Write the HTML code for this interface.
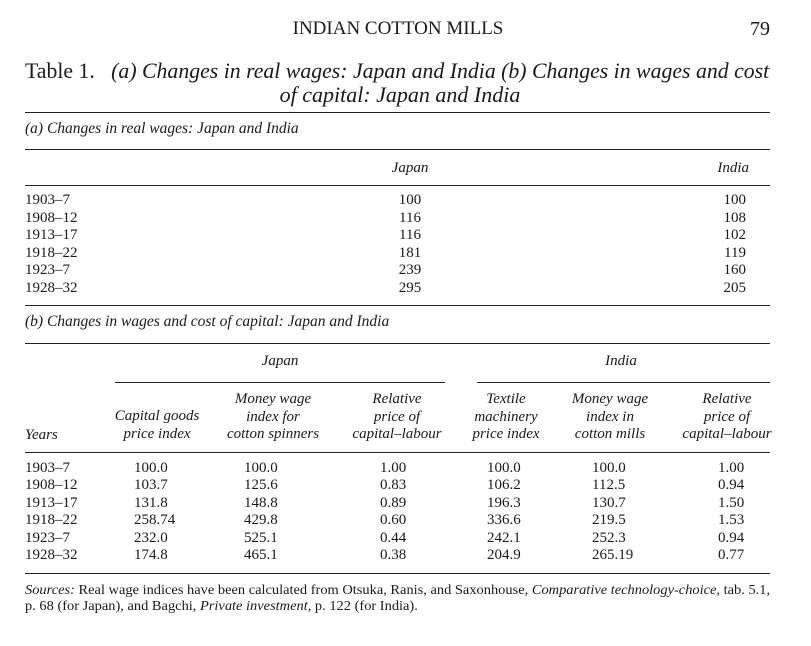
<!DOCTYPE html>
<html><head><meta charset="utf-8"><style>
body{margin:0;width:811px;height:646px;background:#fff;position:relative;overflow:hidden;font-family:"Liberation Serif",serif;color:#1a1a1a}
div{position:absolute;white-space:nowrap;line-height:18px;font-size:15px}
.c{transform:translateX(-50%)}
.r{transform:translateX(-100%)}
.i{font-style:italic}
.h{height:1px;background:#222;line-height:0}
.hd{font-size:15px;line-height:17.5px;text-align:center}
</style></head><body>
<div class="c" style="left:398px;top:18px;font-size:19px;line-height:22px">INDIAN COTTON MILLS</div>
<div class="r" style="left:770px;top:17px;font-size:20px;line-height:24px">79</div>
<div style="left:25px;top:58px;font-size:22px;line-height:26px;transform-origin:0 0;transform:scaleX(0.99)">Table 1.&nbsp;&nbsp;&nbsp;<span class="i">(a) Changes in real wages: Japan and India (b) Changes in wages and cost</span></div>
<div class="i c" style="left:400px;top:82px;font-size:22px;line-height:26px">of capital: Japan and India</div>
<div class="h" style="left:25px;width:745px;top:112px"></div>
<div class="i" style="left:25px;top:120px;font-size:15.5px">(a) Changes in real wages: Japan and India</div>
<div class="h" style="left:25px;width:745px;top:149px"></div>
<div class="i c" style="left:410px;top:159px">Japan</div>
<div class="i r" style="left:749px;top:159px">India</div>
<div class="h" style="left:25px;width:745px;top:185px"></div>
<div style="left:25px;top:192px;line-height:17.6px">1903–7<br>1908–12<br>1913–17<br>1918–22<br>1923–7<br>1928–32</div>
<div class="c" style="left:410px;top:192px;line-height:17.6px;text-align:center">100<br>116<br>116<br>181<br>239<br>295</div>
<div class="r" style="left:746px;top:192px;line-height:17.6px;text-align:right">100<br>108<br>102<br>119<br>160<br>205</div>
<div class="h" style="left:25px;width:745px;top:305px"></div>
<div class="i" style="left:25px;top:313px;font-size:15.5px">(b) Changes in wages and cost of capital: Japan and India</div>
<div class="h" style="left:25px;width:745px;top:343px"></div>
<div class="i c" style="left:280px;top:352px">Japan</div>
<div class="i c" style="left:621px;top:352px">India</div>
<div class="h" style="left:115px;width:330px;top:382px"></div>
<div class="h" style="left:477px;width:293px;top:382px"></div>
<div class="i" style="left:25px;top:426px;font-size:15px">Years</div>
<div class="i c hd" style="left:157px;top:408px">Capital goods<br>price index</div>
<div class="i c hd" style="left:273px;top:391px">Money wage<br>index for<br>cotton spinners</div>
<div class="i c hd" style="left:397px;top:391px">Relative<br>price of<br>capital–labour</div>
<div class="i c hd" style="left:506px;top:391px">Textile<br>machinery<br>price index</div>
<div class="i c hd" style="left:610px;top:391px">Money wage<br>index in<br>cotton mills</div>
<div class="i c hd" style="left:727px;top:391px">Relative<br>price of<br>capital–labour</div>
<div class="h" style="left:25px;width:745px;top:452px"></div>
<div style="left:25px;top:460px;line-height:17.4px">1903–7<br>1908–12<br>1913–17<br>1918–22<br>1923–7<br>1928–32</div>
<div style="left:134px;top:460px;line-height:17.4px">100.0<br>103.7<br>131.8<br>258.74<br>232.0<br>174.8</div>
<div style="left:244px;top:460px;line-height:17.4px">100.0<br>125.6<br>148.8<br>429.8<br>525.1<br>465.1</div>
<div style="left:380px;top:460px;line-height:17.4px">1.00<br>0.83<br>0.89<br>0.60<br>0.44<br>0.38</div>
<div style="left:487px;top:460px;line-height:17.4px">100.0<br>106.2<br>196.3<br>336.6<br>242.1<br>204.9</div>
<div style="left:592px;top:460px;line-height:17.4px">100.0<br>112.5<br>130.7<br>219.5<br>252.3<br>265.19</div>
<div style="left:718px;top:460px;line-height:17.4px">1.00<br>0.94<br>1.50<br>1.53<br>0.94<br>0.77</div>
<div class="h" style="left:25px;width:745px;top:573px"></div>
<div style="left:25px;top:583px;font-size:14px;line-height:16px;transform-origin:0 0;transform:scaleX(1.03)"><span class="i">Sources:</span> Real wage indices have been calculated from Otsuka, Ranis, and Saxonhouse, <span class="i">Comparative technology-choice</span>, tab. 5.1,</div>
<div style="left:25px;top:599px;font-size:14px;line-height:16px;transform-origin:0 0;transform:scaleX(1.03)">p. 68 (for Japan), and Bagchi, <span class="i">Private investment</span>, p. 122 (for India).</div>
</body></html>
